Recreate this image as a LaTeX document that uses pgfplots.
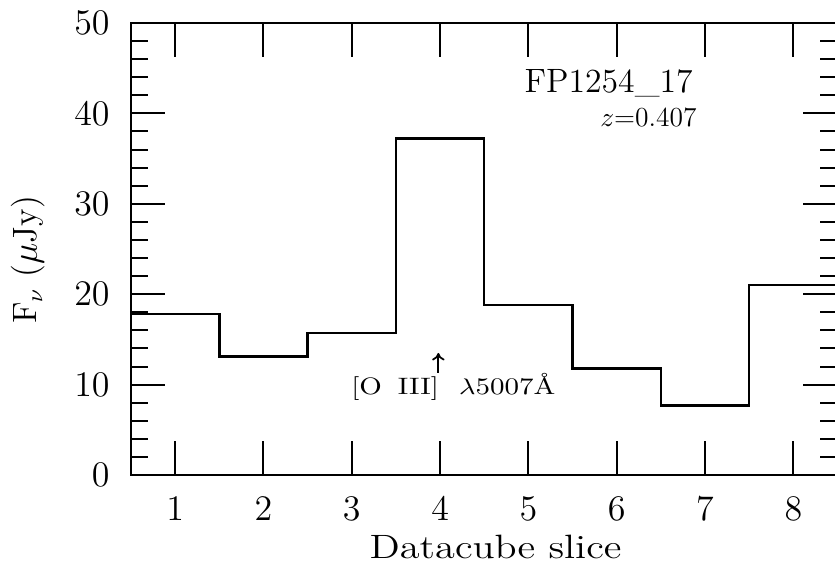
\documentclass[border=0pt]{standalone}
\usepackage{pgfplots}
\usepackage{graphicx}
\usetikzlibrary{arrows.meta}
\pgfplotsset{compat=1.18}
\begin{document}
\begin{tikzpicture}
\begin{axis}[
  at={(0,0)}, anchor=south west,
  scale only axis, width=282.6pt, height=180.8pt,
  xmin=0.5, xmax=8.5, ymin=0, ymax=50,
  xtick={1,2,3,4,5,6,7,8},
  ytick={0,10,20,30,40,50},
  minor y tick num=4,
  xticklabel pos=lower, yticklabel pos=left,
  xtick pos=both, ytick pos=both,
  tick align=inside,
  major tick length=13.6pt, minor tick length=6.8pt,
  axis line style={line width=1pt},
  every tick/.style={black, line width=0.8pt},
  tick label style={font=\fontsize{13.5}{15}\selectfont},
  xticklabel style={inner sep=0pt, anchor=north, yshift=-8.8pt},
  yticklabel style={inner sep=0pt, anchor=east, xshift=-8.4pt},
  xlabel={\scalebox{1.2}[1]{Datacube slice}},
  xlabel style={at={(axis description cs:0.516,0)}, anchor=north, inner sep=0pt, yshift=-24pt, font=\fontsize{13.5}{15}\selectfont},
  ylabel={F$_\nu$ ($\mu$Jy)},
  ylabel style={at={([xshift=-37.6pt]axis description cs:0,0.476)}, anchor=base, inner sep=0pt, font=\fontsize{13.5}{15}\selectfont},
  clip=false,
]
\addplot[const plot, black, line width=1pt] coordinates {
  (0.5,17.8) (1.5,13.1) (2.5,15.7) (3.5,37.2) (4.5,18.8) (5.5,11.8) (6.5,7.7) (7.5,21.0) (8.5,21.0)
};
\node[anchor=base east, inner sep=0pt, font=\fontsize{13.5}{15}\selectfont] at (axis cs:6.865,42.26) {FP1254\_17};
\node[anchor=base east, inner sep=0pt, font=\fontsize{11}{13}\selectfont] at (axis cs:6.91,38.5) {$z$=0.407};
\node[anchor=base, inner sep=0pt, font=\fontsize{9.5}{11}\selectfont] at (axis cs:4.15,8.96) {\scalebox{1.22}[1]{[O\hspace{0.55em}III]\hspace{0.7em}$\lambda$5007\AA}};
\draw[-{To[length=3pt,width=5pt]}, line width=0.7pt] (axis cs:3.98,11.3) -- (axis cs:3.98,13.5);
\end{axis}
\pgfresetboundingbox
\useasboundingbox (-52.4pt,-40.4pt) rectangle (281.6pt,190pt);
\end{tikzpicture}
\end{document}
